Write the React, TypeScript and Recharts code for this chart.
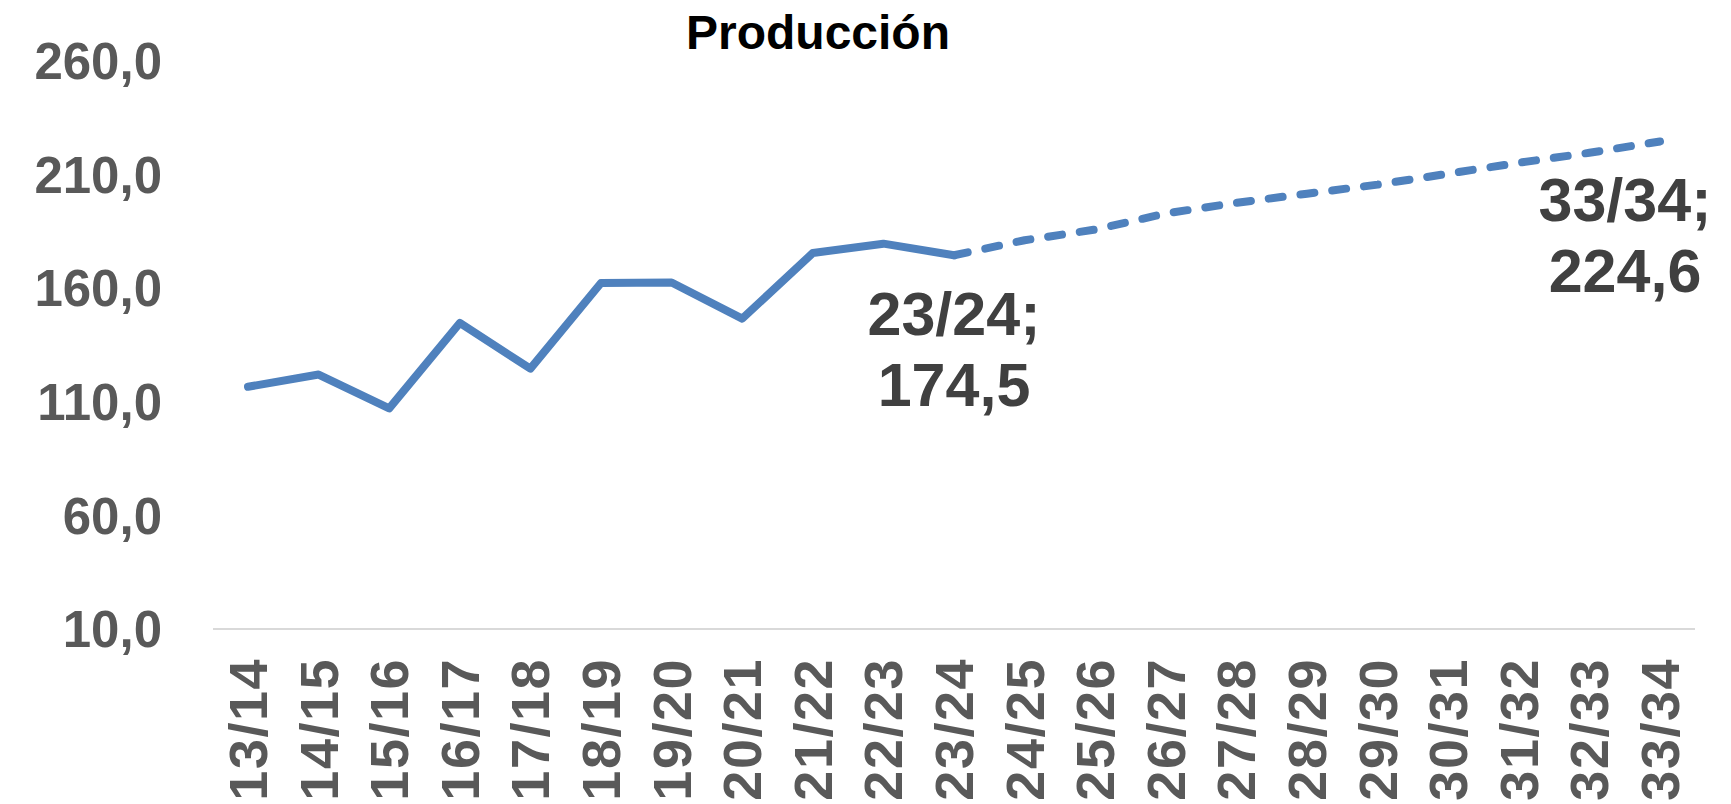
import React from 'react';
import { LineChart, Line, XAxis, YAxis, LabelList } from 'recharts';

const categories = [
  '13/14', '14/15', '15/16', '16/17', '17/18', '18/19', '19/20', '20/21', '21/22', '22/23',
  '23/24', '24/25', '25/26', '26/27', '27/28', '28/29', '29/30', '30/31', '31/32', '32/33', '33/34'
];

// historical production, 13/14 .. 23/24
const produccion = [116.6, 122.0, 107.1, 144.7, 124.6, 162.3, 162.5, 146.6, 175.5, 179.6, 174.5];

// projection, 24/25 .. 33/34
const proyeccion = [181.1, 185.8, 192.9, 197.6, 201.6, 205.6, 210.4, 215.2, 219.6, 224.6];

const yTicks = [10, 60, 110, 160, 210, 260];

const lastReal = produccion.length - 1;

const data = categories.map((c, i) => ({
  name: c,
  real: i <= lastReal ? produccion[i] : null,
  proy: i < lastReal ? null : i === lastReal ? produccion[lastReal] : proyeccion[i - lastReal - 1]
}));

const FONT = '"Liberation Sans", Arial, sans-serif';
const BLUE = '#4F81BD';

const fmt = (v: number) => v.toFixed(1).replace('.', ',');

const XTick = (props: any) => {
  const { x, y, payload } = props;
  return (
    <text
      x={x}
      y={y}
      transform={`rotate(-90 ${x} ${y})`}
      textAnchor="end"
      dominantBaseline="central"
      fill="#595959"
      fontFamily={FONT}
      fontWeight="bold"
      fontSize={54}
      letterSpacing={1.5}
    >
      {payload.value}
    </text>
  );
};

const renderLabel = (props: any) => {
  const { x, y, index } = props;
  if (index !== lastReal && index !== categories.length - 1) return null;
  const val = data[index].proy as number;
  const lx = index === categories.length - 1 ? x - 35 : x;
  return (
    <text
      x={lx}
      y={y + 80}
      textAnchor="middle"
      fill="#404040"
      fontFamily={FONT}
      fontWeight="bold"
      fontSize={61}
    >
      <tspan x={lx}>{categories[index]};</tspan>
      <tspan x={lx} dy={71}>{fmt(val)}</tspan>
    </text>
  );
};

export default function App() {
  return (
    <div style={{ position: 'absolute', left: 0, top: 0, width: 1731, height: 804, background: '#fff', overflow: 'hidden' }}>
      <div
        style={{
          position: 'absolute',
          left: 0,
          width: 1636,
          top: 9,
          textAlign: 'center',
          fontFamily: FONT,
          fontWeight: 'bold',
          fontSize: 48,
          lineHeight: '48px',
          color: '#000'
        }}
      >
        Producción
      </div>
      <LineChart width={1731} height={804} data={data} margin={{ top: 61, right: 36, bottom: 0, left: 0 }}>
        <XAxis
          dataKey="name"
          height={175}
          interval={0}
          padding={{ left: 35, right: 35 }}
          tickLine={false}
          axisLine={{ stroke: '#D9D9D9', strokeWidth: 2 }}
          tickMargin={23}
          tick={<XTick />}
        />
        <YAxis
          type="number"
          domain={[10, 260]}
          ticks={yTicks}
          width={213}
          axisLine={false}
          tickLine={false}
          tickMargin={45}
          tickFormatter={fmt}
          tick={{ fill: '#595959', fontFamily: FONT, fontWeight: 'bold', fontSize: 51 }}
        />
        <Line
          type="linear"
          dataKey="real"
          stroke={BLUE}
          strokeWidth={8}
          strokeLinejoin="round"
          strokeLinecap="round"
          dot={false}
          activeDot={false}
          isAnimationActive={false}
        />
        <Line
          type="linear"
          dataKey="proy"
          stroke={BLUE}
          strokeWidth={8}
          strokeDasharray="14 18"
          strokeLinecap="round"
          strokeLinejoin="round"
          dot={false}
          activeDot={false}
          isAnimationActive={false}
        >
          <LabelList dataKey="proy" content={renderLabel} />
        </Line>
      </LineChart>
    </div>
  );
}
